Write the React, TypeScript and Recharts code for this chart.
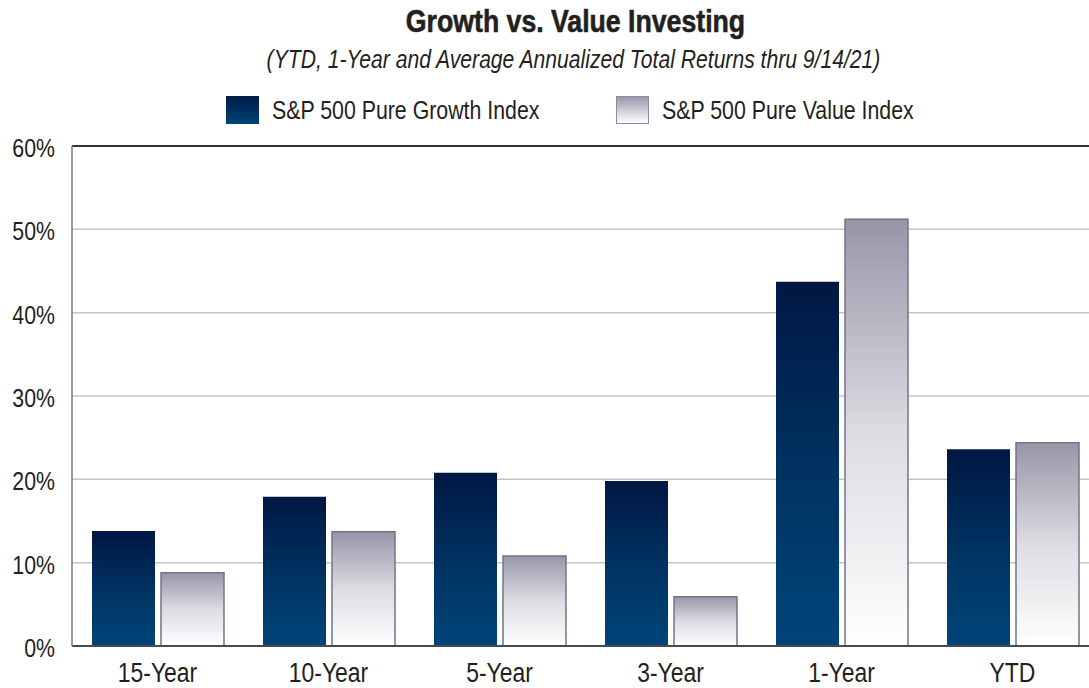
import React from 'react';
import { BarChart, Bar, XAxis, YAxis, CartesianGrid, ReferenceLine } from 'recharts';

const categories = ['15-Year', '10-Year', '5-Year', '3-Year', '1-Year', 'YTD'];
const growthValues = [13.8, 17.9, 20.8, 19.8, 43.7, 23.6];
const valueValues = [8.8, 13.7, 10.8, 5.9, 51.2, 24.4];
const seriesNames = ['S&P 500 Pure Growth Index', 'S&P 500 Pure Value Index'];
const yTicks = [0, 10, 20, 30, 40, 50, 60];
const titleText = 'Growth vs. Value Investing';
const subtitleText = '(YTD, 1-Year and Average Annualized Total Returns thru 9/14/21)';

const data = categories.map((c, i) => ({ name: c, growth: growthValues[i], value: valueValues[i] }));

const FONT = '"Liberation Sans", Arial, sans-serif';
const TEXT = '#231f20';
const NARROW = 0.82;

const YTick = (props: any) => {
  const { x, y, payload } = props;
  return (
    <g transform={`translate(${x},${y})`}>
      <text transform={`scale(${NARROW},1)`} textAnchor="end" dy="0.42em" fill={TEXT} fontSize={26} fontFamily={FONT}>
        {`${payload.value}%`}
      </text>
    </g>
  );
};

const XTick = (props: any) => {
  const { x, y, payload } = props;
  return (
    <g transform={`translate(${x},${y})`}>
      <text transform="scale(0.85,1)" textAnchor="middle" dy="0.72em" fill={TEXT} fontSize={27} fontFamily={FONT}>
        {payload.value}
      </text>
    </g>
  );
};

export default function App() {
  return (
    <div style={{ position: 'absolute', left: 0, top: 0, width: 1089, height: 688, overflow: 'hidden', background: '#fff', fontFamily: FONT, color: TEXT }}>
      <div style={{ position: 'absolute', left: 0, width: 1151, top: 4, textAlign: 'center', fontSize: 31, fontWeight: 'bold', lineHeight: '36px', transform: 'scaleX(0.86)', transformOrigin: '575.5px 0', WebkitTextStroke: '0.6px #231f20' }}>
        {titleText}
      </div>
      <div style={{ position: 'absolute', left: 0, width: 1147, top: 44, textAlign: 'center', fontSize: 25, fontStyle: 'italic', lineHeight: '30px', transform: 'scaleX(0.845)', transformOrigin: '573.5px 0' }}>
        {subtitleText}
      </div>
      <div style={{ position: 'absolute', left: 226, top: 96, width: 33, height: 28, background: 'linear-gradient(#001a45, #004577)' }} />
      <div style={{ position: 'absolute', left: 272, top: 94, fontSize: 26, lineHeight: '32px', whiteSpace: 'nowrap', transform: `scaleX(${NARROW})`, transformOrigin: '0 0' }}>{seriesNames[0]}</div>
      <div style={{ position: 'absolute', left: 616, top: 96, width: 31, height: 26, border: '1px solid #8a8aa0', background: 'linear-gradient(#9898aa, #ffffff)' }} />
      <div style={{ position: 'absolute', left: 662, top: 94, fontSize: 26, lineHeight: '32px', whiteSpace: 'nowrap', transform: `scaleX(${NARROW})`, transformOrigin: '0 0' }}>{seriesNames[1]}</div>
      <div style={{ position: 'absolute', left: 0, top: 0 }}>
        <BarChart
          width={1098}
          height={688}
          data={data}
          margin={{ top: 146, right: 0, bottom: 0, left: 0 }}
          barCategoryGap={20}
          barGap={6}
        >
          <defs>
            <linearGradient id="growthGrad" x1="0" y1="0" x2="0" y2="1">
              <stop offset="0%" stopColor="#001743" />
              <stop offset="55%" stopColor="#003463" />
              <stop offset="100%" stopColor="#00457a" />
            </linearGradient>
            <linearGradient id="valueGrad" x1="0" y1="0" x2="0" y2="1">
              <stop offset="0%" stopColor="#9696a8" />
              <stop offset="50%" stopColor="#dcdce2" />
              <stop offset="100%" stopColor="#ffffff" />
            </linearGradient>
          </defs>
          <CartesianGrid vertical={false} stroke="#c4c4c4" strokeWidth={1.5} />
          <XAxis
            dataKey="name"
            height={42}
            tickLine={false}
            tickMargin={11}
            axisLine={{ stroke: '#4a4a4a', strokeWidth: 2 }}
            tick={<XTick />}
            interval={0}
          />
          <YAxis
            width={72}
            domain={[0, 60]}
            ticks={yTicks}
            tickLine={false}
            tickMargin={11}
            axisLine={{ stroke: '#7a7a7a', strokeWidth: 1.5 }}
            tick={<YTick />}
            interval={0}
          />
          <ReferenceLine y={60} stroke="#333" strokeWidth={2} />
          <Bar dataKey="growth" name={seriesNames[0]} fill="url(#growthGrad)" isAnimationActive={false} />
          <Bar dataKey="value" name={seriesNames[1]} fill="url(#valueGrad)" stroke="#73738c" strokeWidth={1.5} isAnimationActive={false} />
        </BarChart>
      </div>
    </div>
  );
}
